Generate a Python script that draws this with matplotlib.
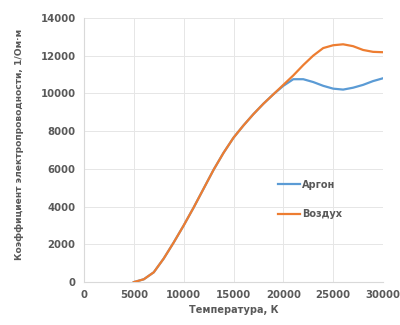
import matplotlib
matplotlib.use("Agg")
import matplotlib.pyplot as plt

# Electrical conductivity vs temperature
temp = [5000, 6000, 7000, 8000, 9000, 10000, 11000, 12000, 13000, 14000, 15000,
        16000, 17000, 18000, 19000, 20000, 21000, 22000, 23000, 24000, 25000,
        26000, 27000, 28000, 29000, 30000]
argon = [0, 150, 520, 1250, 2100, 3000, 3950, 4950, 5950, 6850, 7650,
         8300, 8900, 9450, 9950, 10400, 10750, 10750, 10600, 10400, 10250,
         10200, 10300, 10450, 10650, 10800]
air = [0, 150, 520, 1250, 2100, 3000, 3950, 4950, 5950, 6850, 7650,
       8300, 8900, 9450, 9950, 10450, 10950, 11500, 12000, 12400, 12550,
       12600, 12500, 12300, 12200, 12180]

labels = ["Аргон", "Воздух"]
colors = ["#5B9BD5", "#ED7D31"]
text_color = "#595959"

fig = plt.figure(figsize=(4.0, 3.25), dpi=100)
ax = fig.add_axes([0.21, 0.132, 0.7475, 0.813])

ax.plot(temp, argon, color=colors[0], lw=1.6, label=labels[0], zorder=3)
ax.plot(temp, air, color=colors[1], lw=1.6, label=labels[1], zorder=3)

ax.set_xlim(0, 30000)
ax.set_ylim(0, 14000)
ax.set_xticks(range(0, 30001, 5000))
ax.set_yticks(range(0, 14001, 2000))
ax.grid(True, color="#e6e6e6", lw=0.7)
ax.set_axisbelow(True)

for s in ["top", "right"]:
    ax.spines[s].set_visible(False)
for s in ["left", "bottom"]:
    ax.spines[s].set_color("#d9d9d9")
    ax.spines[s].set_linewidth(0.8)

ax.tick_params(length=0, labelsize=7.3, colors=text_color, pad=6)
for t in ax.get_xticklabels() + ax.get_yticklabels():
    t.set_fontweight("semibold")

ax.set_xlabel("Температура, К", fontsize=7, color=text_color,
              fontweight="semibold", labelpad=3)
ax.set_ylabel("Коэффициент электропроводности, 1/Ом·м", fontsize=6.6,
              color=text_color, fontweight="semibold")
ax.yaxis.set_label_coords(-0.2, 0.52)

leg = ax.legend(loc="upper left", bbox_to_anchor=(0.62, 0.42), frameon=False,
                fontsize=7, handlelength=2.2, handletextpad=0.3,
                labelspacing=2.0, labelcolor=text_color)
for t in leg.get_texts():
    t.set_fontweight("semibold")

fig.savefig("out.png", dpi=100)
